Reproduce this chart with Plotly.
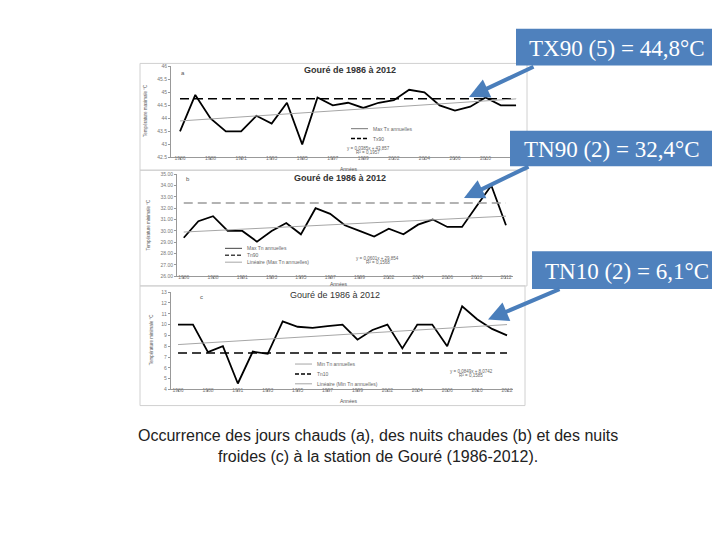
import plotly.graph_objects as go

# ---------------- data ----------------
years = [1986, 1987, 1988, 1990, 1991, 1992, 1993, 1994, 1995, 1996, 1997, 1998,
         1999, 2000, 2002, 2003, 2004, 2005, 2006, 2008, 2010, 2011, 2012]
tx_max = [43.5, 44.9, 44.0, 43.5, 43.5, 44.1, 43.8, 44.6, 43.0, 44.8, 44.5, 44.6,
          44.4, 44.6, 44.7, 45.1, 45.0, 44.5, 44.3, 44.45, 44.8, 44.5, 44.5]
tn_max = [29.4, 30.85, 31.3, 30.0, 30.0, 29.05, 30.0, 30.7, 29.7, 32.0, 31.5, 30.5,
          30.0, 29.5, 30.2, 29.7, 30.55, 31.0, 30.35, 30.35, 32.2, 34.0, 30.5]
tn_min = [10.0, 10.0, 7.45, 8.0, 4.55, 7.5, 7.3, 10.3, 9.8, 9.7, 9.85, 10.0,
          8.6, 9.5, 10.0, 7.8, 10.0, 10.0, 8.0, 11.7, 10.5, 9.6, 9.0]
tx90 = 44.75
tn90 = 32.45
tn10 = 7.38
trend_a = [43.9, 44.75]
trend_b = [29.9, 31.3]
trend_c = [8.15, 10.0]

ticks_a = [42.5, 43, 43.5, 44, 44.5, 45, 45.5, 46]
ticks_b = [26, 27, 28, 29, 30, 31, 32, 33, 34, 35]
ticks_c = [4, 5, 6, 7, 8, 9, 10, 11, 12, 13]

callouts = ["TX90 (5) = 44,8°C", "TN90 (2) = 32,4°C", "TN10 (2) = 6,1°C"]
caption1 = "Occurrence des jours chauds (a), des nuits chaudes (b) et des nuits"
caption2 = "froides (c) à la station de Gouré (1986-2012)."
title_txt = "Gouré de 1986 à 2012"

W, H = 720, 540
def px(x): return x / W
def py(y): return 1 - y / H

ycats = [str(y) for y in years]
BLUE = "#4a7ebb"
GRAY = "#a6a6a6"

fig = go.Figure()

panels = [
    ("", tx_max, tx90, trend_a, ticks_a, None, (163, 516), (56, 148), (-0.59, 22.52), "black"),
    ("2", tn_max, tn90, trend_b, ticks_b, ".2f", (169, 505), (165, 268.3), (-0.46, 22.48), "#9a9a9a"),
    ("3", tn_min, tn10, trend_c, ticks_c, None, (162.7, 505), (284.3, 382.7), (-0.49, 22.4), "black"),
]

layout_axes = {}
for key, vals, thr, trend, ticks, fmt, xd, yd, xr, thrc in panels:
    xa, ya = "x" + key, "y" + key
    fig.add_trace(go.Scatter(x=ycats, y=vals, mode="lines", xaxis=xa, yaxis=ya,
                             line=dict(color="black", width=1.8), showlegend=False))
    fig.add_trace(go.Scatter(x=[ycats[0], ycats[-1]], y=[thr, thr], mode="lines",
                             xaxis=xa, yaxis=ya,
                             line=dict(color=thrc, width=1.5, dash="9px,5px"), showlegend=False))
    fig.add_trace(go.Scatter(x=[ycats[0], ycats[-1]], y=trend, mode="lines",
                             xaxis=xa, yaxis=ya,
                             line=dict(color=GRAY, width=1), showlegend=False))
    layout_axes["xaxis" + key] = dict(
        domain=[px(xd[0]), px(xd[1])], anchor=ya, type="category",
        categoryorder="array", categoryarray=ycats, range=list(xr),
        tickvals=ycats[::2], ticks="outside", ticklen=2, tickcolor="#999",
        ticklabelstandoff=-6,
        showline=True, linecolor="#999", linewidth=1, showgrid=False,
        tickfont=dict(size=5, color="#777", family="Liberation Sans"), zeroline=False)
    layout_axes["yaxis" + key] = dict(
        domain=[py(yd[1]), py(yd[0])], anchor=xa, range=[ticks[0], ticks[-1]],
        tickvals=ticks, tickformat=fmt, ticks="outside", ticklen=2, tickcolor="#999",
        showline=True, linecolor="#999", linewidth=1, showgrid=False,
        tickfont=dict(size=5, color="#777", family="Liberation Sans"), zeroline=False)

fig.update_layout(**layout_axes)

shapes = []
annotations = []

for (x0, y0, x1, y1) in [(132, 53, 519, 161), (132, 161, 519, 278), (132, 278, 517, 399)]:
    shapes.append(dict(type="rect", xref="paper", yref="paper",
                       x0=px(x0), x1=px(x1), y0=py(y1), y1=py(y0),
                       line=dict(color="#d0d0d0", width=1), layer="below"))

def txt(x, y, s, size=5, color="#666", bold=False, angle=0, xanchor="center", family="Liberation Sans"):
    annotations.append(dict(x=px(x), y=py(y), xref="paper", yref="paper", text=("<b>%s</b>" % s) if bold else s,
                            showarrow=False, xanchor=xanchor, yanchor="middle", textangle=angle,
                            font=dict(size=size, color=color, family=family)))

txt(342, 60, title_txt, size=9, color="#333", bold=True)
txt(332, 169, title_txt, size=9, color="#333", bold=True)
txt(327, 287, title_txt, size=9, color="#333")
txt(175, 63, "a", size=6, color="#555")
txt(180, 170, "b", size=6, color="#555")
txt(193, 289, "c", size=6, color="#555")
txt(340, 159.5, "Années", size=5, color="#555")
txt(330, 276.5, "Années", size=5, color="#555")
txt(340, 394, "Années", size=5, color="#555")
txt(138, 101, "Température maximale °C", size=4.5, color="#555", angle=-90)
txt(141, 216, "Température minimale °C", size=4.5, color="#555", angle=-90)
txt(143, 332, "Température minimale °C", size=4.5, color="#555", angle=-90)

def leg(x0, y, label, color, dash="solid", w=1.5):
    shapes.append(dict(type="line", xref="paper", yref="paper", x0=px(x0), x1=px(x0 + 17),
                       y0=py(y), y1=py(y), line=dict(color=color, width=w, dash=dash)))
    txt(x0 + 20, y, label, size=5, color="#666", xanchor="left")

leg(343, 119, "Max Tx annuelles", "#777", w=1)
leg(343, 129, "Tx90", "black", dash="4px,2px")
txt(360, 139, "y = 0,0385x + 43,857", size=4.5)
txt(360, 143.5, "R² = 0,1957", size=4.5)

leg(217, 240, "Max Tn annuelles", "#444", w=1)
leg(217, 247, "Tn90", "#444", dash="4px,2px")
leg(217, 254, "Linéaire (Max Tn annuelles)", GRAY, w=1)
txt(370, 250, "y = 0,0601x + 29,854", size=4.5)
txt(370, 254, "R² = 0,1568", size=4.5)

leg(287, 357, "Min Tn annuelles", GRAY, w=1)
leg(287, 367, "Tn10", "black", dash="4px,2px")
leg(287, 377, "Linéaire (Min Tn annuelles)", GRAY, w=1)
txt(463, 365, "y = 0,0849x + 8,0742", size=4.5)
txt(463, 369, "R² = 0,1585", size=4.5)

boxes = [(508, 18, 710, 55), (502, 121, 705, 157), (524, 243, 713, 281)]
for (x0, y0, x1, y1), label in zip(boxes, callouts):
    shapes.append(dict(type="rect", xref="paper", yref="paper",
                       x0=px(x0), x1=px(x1), y0=py(y1), y1=py(y0),
                       fillcolor="#4f81bd", line=dict(width=0), layer="above"))
    txt((x0 + x1) / 2, (y0 + y1) / 2 + 1, label, size=23, color="white", family="Liberation Serif")

for (hx, hy, tx_, ty_) in [(461, 87, 527, 56), (456, 189, 522, 157), (480, 312, 553, 281)]:
    annotations.append(dict(x=px(hx), y=py(hy), xref="paper", yref="paper", text="",
                            showarrow=True, ax=tx_ - hx, ay=ty_ - hy, axref="pixel", ayref="pixel",
                            arrowhead=2, arrowsize=1, arrowwidth=4, arrowcolor=BLUE))

txt(370, 429, caption1, size=16, color="#222")
txt(370, 451, caption2, size=16, color="#222")

fig.update_layout(width=W, height=H, margin=dict(l=0, r=0, t=0, b=0),
                  paper_bgcolor="white", plot_bgcolor="white",
                  shapes=shapes, annotations=annotations, showlegend=False)

fig.write_html("out.html")
